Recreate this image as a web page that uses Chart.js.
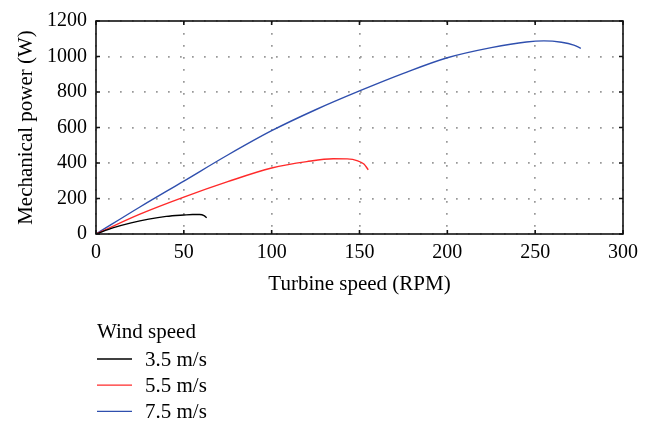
<!DOCTYPE html>
<html lang="en">
<head>
    <meta charset="UTF-8">
    <title>Mechanical power vs turbine speed</title>
    <style>
        body {
            margin: 0;
            background: #fff;
        }
        .chart-box {
            width: 658px;
            height: 426px;
        }
    </style>
    <script src="https://cdn.jsdelivr.net/npm/chart.js"></script>
</head>
<body>
    <div class="chart-box">
        <canvas id="powerChart" width="658" height="426"></canvas>
    </div>

    <script>
        // Series data (speed in RPM, power in W)
        const windSpeeds = ['3.5 m/s', '5.5 m/s', '7.5 m/s'];

        const speed35 = [0, 10, 20, 30, 40, 50, 55, 59, 61.5, 63];
        const power35 = [0, 36, 63, 84, 99, 107, 110, 110, 104, 92];

        const speed55 = [0, 25, 50, 75, 100, 120, 135, 143, 149, 152.5, 155];
        const power55 = [0, 112, 208, 295, 372, 408, 424, 423, 412, 394, 362];

        const speed75 = [0, 25, 50, 75, 100, 125, 150, 175, 200, 225, 245, 255, 265, 272, 276];
        const power75 = [0, 152, 298, 445, 582, 700, 806, 905, 993, 1050, 1082, 1088, 1080, 1064, 1046];

        const xTicks = [0, 50, 100, 150, 200, 250, 300];
        const yTicks = [0, 200, 400, 600, 800, 1000, 1200];

        const lineColors = ['#000000', '#ff2a2a', '#2f4fae'];

        const serif = "'Liberation Serif', 'DejaVu Serif', serif";

        function toPoints(xs, ys) {
            return xs.map((x, i) => ({ x: x, y: ys[i] }));
        }

        // Black box round the plot area, with short ticks pointing inwards
        const frame = {
            id: 'frame',
            afterDatasetsDraw(chart) {
                const a = chart.chartArea;
                const ctx = chart.ctx;
                const xs = chart.scales.x;
                const ys = chart.scales.y;
                const len = 4;
                ctx.save();
                ctx.strokeStyle = '#111';
                ctx.lineWidth = 1.6;
                ctx.setLineDash([]);
                ctx.beginPath();
                xTicks.forEach(v => {
                    const px = xs.getPixelForValue(v);
                    ctx.moveTo(px, a.bottom); ctx.lineTo(px, a.bottom - len);
                    ctx.moveTo(px, a.top); ctx.lineTo(px, a.top + len);
                });
                yTicks.forEach(v => {
                    const py = ys.getPixelForValue(v);
                    ctx.moveTo(a.left, py); ctx.lineTo(a.left + len, py);
                    ctx.moveTo(a.right, py); ctx.lineTo(a.right - len, py);
                });
                ctx.stroke();
                ctx.strokeRect(a.left, a.top, a.right - a.left, a.bottom - a.top);
                ctx.restore();
            }
        };

        // Legend under the chart: title, then one row per series
        const stackedLegend = {
            id: 'stackedLegend',
            afterDraw(chart) {
                const ctx = chart.ctx;
                const left = chart.chartArea.left + 1;
                ctx.save();
                ctx.font = '21px ' + serif;
                ctx.fillStyle = '#000';
                ctx.textBaseline = 'middle';
                ctx.fillText('Wind speed', left, 332);
                chart.data.datasets.forEach((ds, i) => {
                    const y = 359 + i * 26.2;
                    ctx.strokeStyle = ds.borderColor;
                    ctx.lineWidth = 1.3;
                    ctx.beginPath();
                    ctx.moveTo(left, y);
                    ctx.lineTo(left + 35, y);
                    ctx.stroke();
                    ctx.fillText(ds.label, left + 48, y + 1);
                });
                ctx.restore();
            }
        };

        const gridStyle = {
            color: '#999',
            lineWidth: 1.7,
            drawTicks: false
        };

        new Chart(document.getElementById('powerChart'), {
            type: 'line',
            data: {
                datasets: [
                    { label: windSpeeds[0], data: toPoints(speed35, power35), borderColor: lineColors[0] },
                    { label: windSpeeds[1], data: toPoints(speed55, power55), borderColor: lineColors[1] },
                    { label: windSpeeds[2], data: toPoints(speed75, power75), borderColor: lineColors[2] }
                ]
            },
            options: {
                responsive: false,
                animation: false,
                parsing: false,
                elements: {
                    point: { radius: 0 },
                    line: { borderWidth: 1.4, cubicInterpolationMode: 'monotone', fill: false }
                },
                layout: {
                    padding: { top: 14, right: 35, bottom: 117, left: 0 }
                },
                plugins: {
                    legend: { display: false },
                    tooltip: { enabled: false }
                },
                scales: {
                    x: {
                        type: 'linear',
                        min: 0,
                        max: 300,
                        afterBuildTicks(scale) {
                            scale.ticks = xTicks.map(v => ({ value: v }));
                        },
                        afterFit(scale) {
                            scale.height = 75;
                        },
                        ticks: {
                            color: '#000',
                            font: { family: serif, size: 20 },
                            padding: 7,
                            callback: v => String(v)
                        },
                        grid: gridStyle,
                        border: { display: false, dash: [1.7, 10.3] },
                        title: {
                            display: true,
                            text: 'Turbine speed (RPM)',
                            color: '#000',
                            font: { family: serif, size: 21 },
                            padding: { top: 0, bottom: 12 }
                        }
                    },
                    y: {
                        type: 'linear',
                        min: 0,
                        max: 1200,
                        afterBuildTicks(scale) {
                            scale.ticks = yTicks.map(v => ({ value: v }));
                        },
                        afterFit(scale) {
                            scale.width = 96;
                        },
                        ticks: {
                            color: '#000',
                            font: { family: serif, size: 20 },
                            padding: 9,
                            callback: v => String(v)
                        },
                        grid: gridStyle,
                        border: { display: false, dash: [1.7, 10.3] },
                        title: {
                            display: true,
                            text: 'Mechanical power (W)',
                            color: '#000',
                            font: { family: serif, size: 21 },
                            padding: { top: 14, bottom: 0 }
                        }
                    }
                }
            },
            plugins: [frame, stackedLegend]
        });
    </script>
</body>
</html>
